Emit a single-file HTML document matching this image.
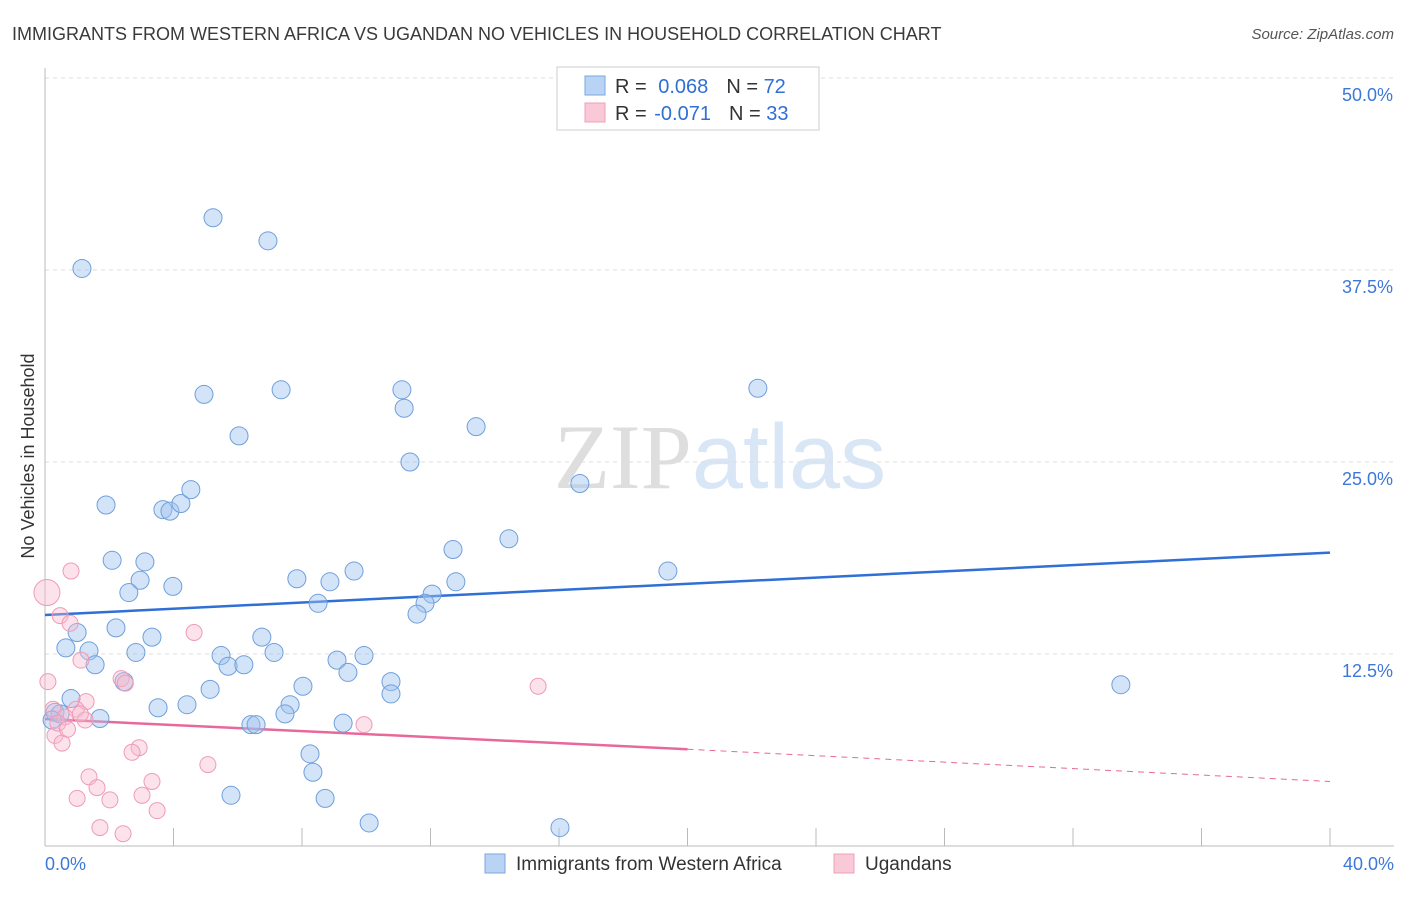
<!DOCTYPE html>
<html><head><meta charset="utf-8">
<style>
body{margin:0;background:#fff;font-family:"Liberation Sans",sans-serif;}
svg text{font-family:"Liberation Sans",sans-serif;}
</style></head>
<body>
<svg id="chart" width="1406" height="892" viewBox="0 0 1406 892" xmlns="http://www.w3.org/2000/svg">
<text x="12" y="40" font-size="18" fill="#3a3a3a">IMMIGRANTS FROM WESTERN AFRICA VS UGANDAN NO VEHICLES IN HOUSEHOLD CORRELATION CHART</text>
<text x="1394" y="39" font-size="15" fill="#555" text-anchor="end" font-style="italic">Source: ZipAtlas.com</text>
<text x="720" y="488" font-size="92" text-anchor="middle" fill="#e4e4e4"><tspan font-family="Liberation Serif" fill="#dedede">ZIP</tspan><tspan fill="#d8e6f6">atlas</tspan></text>
<text transform="translate(34,456) rotate(-90)" font-size="18" fill="#333" text-anchor="middle">No Vehicles in Household</text>
<g id="grid"></g>
<g id="axes"></g>
<g id="trends"></g>
<g id="points"></g>
<g>
<rect x="557" y="67" width="262" height="63" fill="#fff" stroke="#ccc"/>
<rect x="585" y="76" width="20" height="19" fill="#b9d3f5" stroke="#7aa7e0"/>
<rect x="585" y="103" width="20" height="19" fill="#f9c9d7" stroke="#f0a0b8"/>
<text x="615" y="93" font-size="20" fill="#333">R = <tspan fill="#2f6fd6" dx="6">0.068</tspan><tspan dx="18" fill="#333">N = </tspan><tspan fill="#2f6fd6">72</tspan></text>
<text x="615" y="120" font-size="20" fill="#333">R = <tspan fill="#2f6fd6" dx="2">-0.071</tspan><tspan dx="18" fill="#333">N = </tspan><tspan fill="#2f6fd6">33</tspan></text>
</g>
<g>
<rect x="485" y="854" width="20" height="19" fill="#b9d3f5" stroke="#7aa7e0"/>
<text x="516" y="870" font-size="19" fill="#333">Immigrants from Western Africa</text>
<rect x="834" y="854" width="20" height="19" fill="#f9c9d7" stroke="#f0a0b8"/>
<text x="865" y="870" font-size="19" fill="#333">Ugandans</text>
</g>
</svg>
<script>
const yTicks=[12.5,25,37.5,50];
const yTickLabels=["12.5%","25.0%","37.5%","50.0%"];
const xTicks=[0,4,8,12,16,20,24,28,32,36,40];
const blueX=[1.15,5.23,6.94,4.95,7.35,6.04,11.11,11.18,13.42,22.19,11.36,16.65,1.90,3.67,3.89,4.23,4.54,14.44,12.70,2.09,3.11,9.62,19.39,7.84,8.87,12.79,2.96,3.98,2.61,12.05,11.83,8.50,11.58,1.00,2.21,3.33,6.75,0.65,1.37,1.56,2.83,7.13,5.48,5.70,6.19,9.09,9.93,9.43,2.46,5.14,8.03,10.77,10.77,33.49,0.81,7.63,3.52,4.42,0.31,0.47,7.47,1.71,0.22,6.41,6.57,9.28,8.25,8.34,5.79,8.72,10.09,16.03];
const blueY=[37.6,40.9,39.4,29.4,29.7,26.7,29.7,28.5,27.3,29.8,25.0,23.6,22.2,21.9,21.8,22.3,23.2,20.0,19.3,18.6,18.5,17.9,17.9,17.4,17.2,17.2,17.3,16.9,16.5,16.4,15.8,15.8,15.1,13.9,14.2,13.6,13.6,12.9,12.7,11.8,12.6,12.6,12.4,11.7,11.8,12.1,12.4,11.3,10.7,10.2,10.4,10.7,9.9,10.5,9.6,9.2,9.0,9.2,8.7,8.6,8.6,8.3,8.2,7.9,7.9,8.0,6.0,4.8,3.3,3.1,1.5,1.2];
const pinkX=[0.06,0.81,0.47,0.78,4.64,1.12,0.09,2.37,15.35,1.28,0.97,0.25,0.62,1.25,9.93,0.31,0.53,2.93,2.71,5.07,1.37,3.33,1.62,3.02,1.00,2.02,3.49,1.71,2.43,0.40,1.10,0.70,2.50];
const pinkY=[16.5,17.9,15.0,14.5,13.9,12.1,10.7,10.9,10.4,9.4,8.9,8.9,8.4,8.2,7.9,7.2,6.7,6.4,6.1,5.3,4.5,4.2,3.8,3.3,3.1,3.0,2.3,1.2,0.8,8.0,8.6,7.6,10.6];
const blueTrend=[15.04,19.1];
const pinkTrend=[8.27,6.3,4.2];
const NS="http://www.w3.org/2000/svg";
const X=v=>45+v*(1285/40), Y=v=>846-v*15.36;
function mk(tag,attrs,parent){const e=document.createElementNS(NS,tag);for(const k in attrs)e.setAttribute(k,attrs[k]);document.getElementById(parent).appendChild(e);return e;}
yTicks.forEach((t,i)=>{
 const g=mk('line',{x1:45,x2:1394,y1:Y(t),y2:Y(t),stroke:'#ddd','stroke-dasharray':'4,4'},'grid');
 
 
 const l=mk('text',{x:1393,y:Y(t)+23,'font-size':18,fill:'#3d78d8','text-anchor':'end'},'grid');
 l.textContent=yTickLabels[i];
 
 
});
const ax=mk('line',{x1:45,x2:1394,y1:846,y2:846,stroke:'#bbb'},'axes');


const ay=mk('line',{x1:45,x2:45,y1:68,y2:846,stroke:'#bbb'},'axes');


xTicks.forEach(t=>{
 const e=mk('line',{x1:X(t),x2:X(t),y1:828,y2:846,stroke:'#bbb'},'axes');
 
 
});
[[0,"0.0%","start",45],[40,"40.0%","end",1394]].forEach(a=>{
 const t=mk('text',{x:a[3],y:870,'font-size':18,fill:'#3d78d8','text-anchor':a[2]},'axes');
 t.textContent=a[1];
 
 
});
const bt=mk('line',{x1:X(0),y1:Y(blueTrend[0]),x2:X(40),y2:Y(blueTrend[1]),stroke:'#2f6fd6','stroke-width':2.5},'trends');


const pt=mk('line',{x1:X(0),y1:Y(pinkTrend[0]),x2:X(20),y2:Y(pinkTrend[1]),stroke:'#e8689a','stroke-width':2.5},'trends');


const pd=mk('line',{x1:X(20),y1:Y(pinkTrend[1]),x2:X(40),y2:Y(pinkTrend[2]),stroke:'#e8689a','stroke-width':1,'stroke-dasharray':'6,5'},'trends');


blueX.forEach((v,i)=>{
 const c=mk('circle',{cx:X(v),cy:Y(blueY[i]),r:9,fill:'rgba(160,196,240,0.45)',stroke:'#6f9fdc','stroke-width':1},'points');
 
 
});
pinkX.forEach((v,i)=>{
 const c=mk('circle',{cx:X(v),cy:Y(pinkY[i]),r:i===0?13:8,fill:'rgba(247,185,205,0.4)',stroke:'#f09ab6','stroke-width':1},'points');
 
 
});
</script>
</body></html>
